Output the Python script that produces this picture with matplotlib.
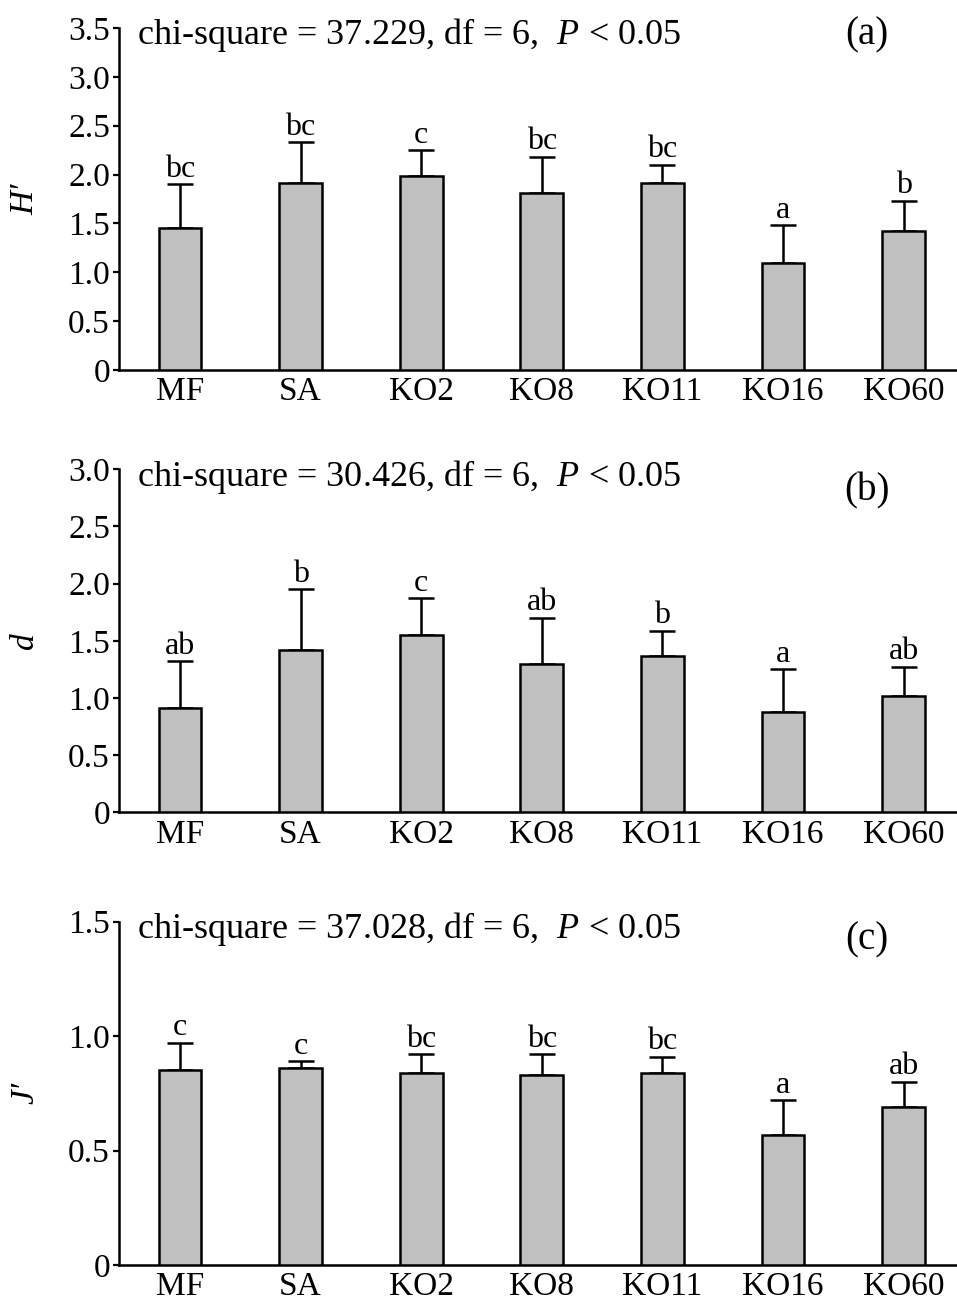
import numpy as np
import matplotlib
matplotlib.use("Agg")
import matplotlib.pyplot as plt

plt.rcParams['font.family'] = ['Liberation Serif', 'DejaVu Serif']
plt.rcParams['mathtext.fontset'] = 'custom'
plt.rcParams['mathtext.rm'] = 'Liberation Serif'
plt.rcParams['mathtext.it'] = 'Liberation Serif:italic'

sites = ['MF', 'SA', 'KO2', 'KO8', 'KO11', 'KO16', 'KO60']

# (a) Shannon H'
h_mean = [1.45, 1.91, 1.99, 1.81, 1.91, 1.09, 1.42]
h_sd = [0.45, 0.42, 0.26, 0.37, 0.19, 0.39, 0.31]
h_let = ['bc', 'bc', 'c', 'bc', 'bc', 'a', 'b']

# (b) Margalef d
d_mean = [0.91, 1.42, 1.55, 1.30, 1.37, 0.88, 1.02]
d_sd = [0.41, 0.53, 0.32, 0.40, 0.22, 0.37, 0.25]
d_let = ['ab', 'b', 'c', 'ab', 'b', 'a', 'ab']

# (c) Pielou J'
j_mean = [0.85, 0.86, 0.84, 0.83, 0.84, 0.57, 0.69]
j_sd = [0.12, 0.03, 0.08, 0.09, 0.07, 0.15, 0.11]
j_let = ['c', 'c', 'bc', 'bc', 'bc', 'a', 'ab']

chi = ['37.229', '30.426', '37.028']
panel = ['(a)', '(b)', '(c)']
ylab = ['H\u2032', 'd', 'J\u2032']
ymax = [3.5, 3.0, 1.5]
yticks = [[0, 0.5, 1.0, 1.5, 2.0, 2.5, 3.0, 3.5],
          [0, 0.5, 1.0, 1.5, 2.0, 2.5, 3.0],
          [0, 0.5, 1.0, 1.5]]

fs = 24
W, H = 957, 1301
fig = plt.figure(figsize=(W / 100, H / 100), dpi=100)

# axes boxes in pixels: top, bottom
boxes = [(28, 370), (469.3, 812.3), (921.7, 1265)]
left = 119
panel_y = [0.952, 0.910, 0.918]

means = [h_mean, d_mean, j_mean]
sds = [h_sd, d_sd, j_sd]
lets = [h_let, d_let, j_let]

x = np.arange(len(sites))
for i in range(3):
    top, bot = boxes[i]
    ax = fig.add_axes([left / W, 1 - bot / H, 1 - left / W, (bot - top) / H])
    ax.bar(x, means[i], width=0.356, color='#c0c0c0', edgecolor='black',
           linewidth=1.8, zorder=3)
    ax.errorbar(x, means[i], yerr=[np.zeros(len(x)), sds[i]], fmt='none',
                ecolor='black', elinewidth=1.8, capsize=9.6, capthick=1.8, zorder=2)
    for k in range(len(x)):
        ax.annotate(lets[i][k], (x[k], means[i][k] + sds[i][k]),
                    xytext=(0, 5.5), textcoords='offset points',
                    ha='center', va='baseline', fontsize=23)
    ax.set_xlim(-0.506, 6.443)
    ax.set_ylim(0, ymax[i])
    ax.set_yticks(yticks[i])
    ax.set_yticklabels(['0'] + ['%.1f' % v for v in yticks[i][1:]])
    ax.set_xticks(x)
    ax.set_xticklabels(sites)
    ax.tick_params(axis='y', direction='out', length=4.5, width=1.6,
                   labelsize=fs, pad=2)
    ax.tick_params(axis='x', length=0, labelsize=fs, pad=5)
    for s in ['top', 'right']:
        ax.spines[s].set_visible(False)
    for s in ['left', 'bottom']:
        ax.spines[s].set_linewidth(1.8)
    ax.text(0.021, 0.952, 'chi-square = ' + chi[i] + ', df = 6,  $P$ < 0.05',
            transform=ax.transAxes, fontsize=26, va='baseline', ha='left')
    ax.text(0.8926, panel_y[i], panel[i], transform=ax.transAxes,
            fontsize=28, va='baseline', ha='center')
    fig.text(25 / W, 1 - (top + bot) / 2 / H, ylab[i], rotation=90,
             fontsize=fs, style='italic', ha='center', va='center')

fig.savefig('out.png', dpi=100)
